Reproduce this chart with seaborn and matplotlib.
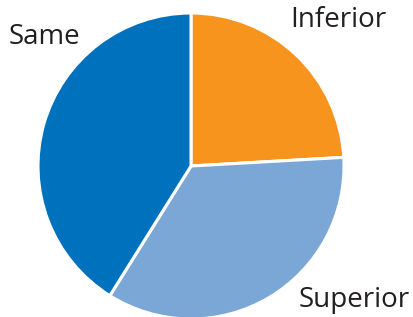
import matplotlib
matplotlib.use("Agg")
import matplotlib.pyplot as plt
import seaborn as sns

labels = ["Inferior", "Superior", "Same"]
shares = [24.1, 34.8, 41.1]
colors = ["#F7941D", "#7BA7D7", "#0071BC"]

sns.set_theme(style="white")
plt.rcParams["font.family"] = ["Open Sans", "DejaVu Sans"]

fig = plt.figure(figsize=(4.13, 3.17), dpi=100)
ax = fig.add_axes([0, 0, 1, 1])
ax.pie(shares, colors=colors, startangle=90, counterclock=False,
       wedgeprops=dict(edgecolor="white", linewidth=2.2))

# pie center at (191,166) px, radius 153 px
ax.set_xlim(-191 / 153, (413 - 191) / 153)
ax.set_ylim(-(317 - 166) / 153, 166 / 153)
ax.set_aspect("auto")
ax.axis("off")

pos = {"Same": (-0.955, 0.845), "Inferior": (0.961, 0.954), "Superior": (1.065, -0.876)}
for lab in labels:
    x, y = pos[lab]
    ax.text(x, y, lab, fontsize=20, color="#231F20", ha="center", va="center")

fig.savefig("out.png", dpi=100)
